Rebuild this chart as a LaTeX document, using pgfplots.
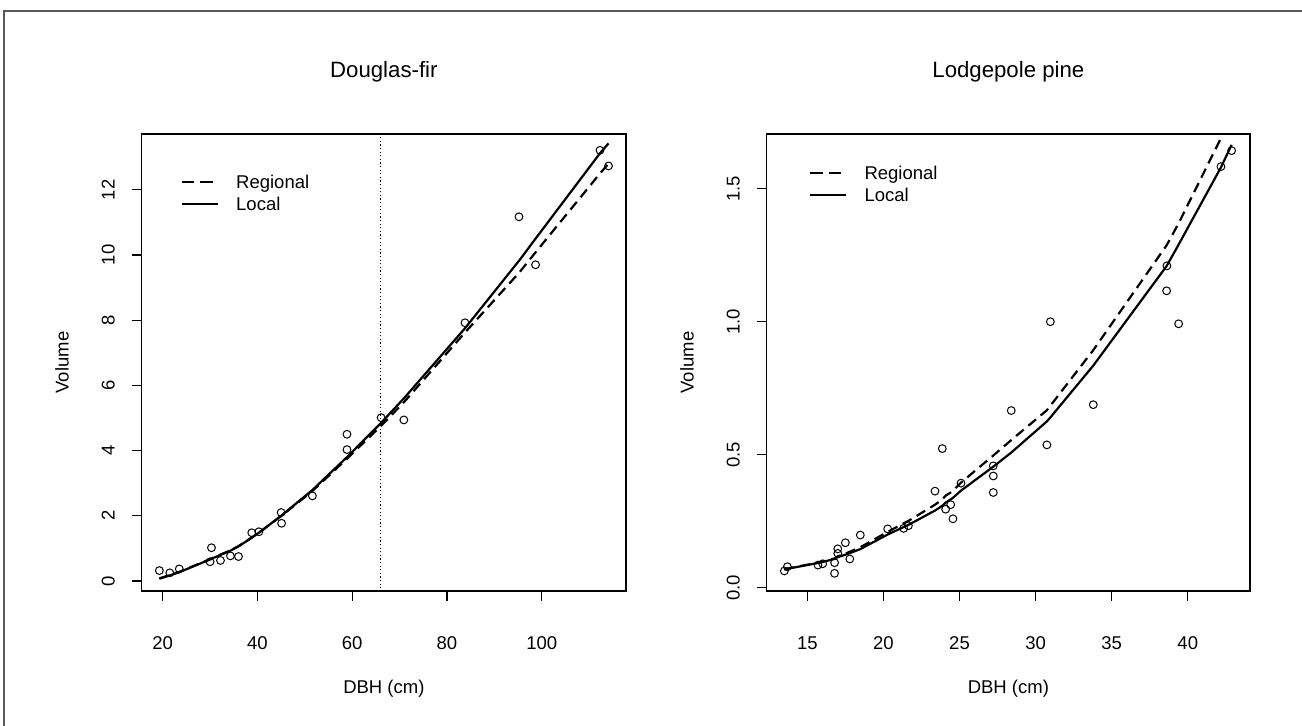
\documentclass[border=0pt]{standalone}
\usepackage{fontspec}
\setmainfont{Liberation Sans}
\usepackage{pgfplots}
\usepackage{pgfplotstable}
\pgfplotsset{compat=1.18}

% Douglas-fir: observed trees
\pgfplotstableread{
dbh vol
19.3 0.32
21.5 0.25
23.5 0.37
30.0 0.59
30.3 1.02
32.2 0.63
34.3 0.77
36.0 0.75
38.8 1.48
40.3 1.51
45.0 2.10
45.1 1.77
51.6 2.61
58.9 4.50
58.9 4.03
66.1 5.01
70.9 4.94
83.8 7.92
95.2 11.17
98.7 9.70
112.3 13.21
114.1 12.73
}\dfpts

% Douglas-fir: fitted volumes
\pgfplotstableread{
dbh reg loc
19.3 0.08 0.07
21.5 0.18 0.17
23.5 0.28 0.27
30.0 0.67 0.66
30.3 0.69 0.68
32.2 0.81 0.80
34.3 0.94 0.93
36.0 1.07 1.06
38.8 1.33 1.33
40.3 1.48 1.48
45.0 1.99 2.00
51.6 2.76 2.79
58.9 3.75 3.80
66.1 4.76 4.85
70.9 5.48 5.60
83.8 7.62 7.75
95.2 9.45 9.82
98.7 10.08 10.50
112.3 12.50 13.12
114.1 12.80 13.42
}\dffit

% Lodgepole pine: observed trees
\pgfplotstableread{
dbh vol
13.49 0.063
13.69 0.079
15.70 0.085
16.01 0.090
16.79 0.094
16.79 0.054
17.00 0.146
17.00 0.129
17.50 0.169
17.79 0.108
18.48 0.198
20.28 0.221
21.33 0.223
21.64 0.233
23.39 0.363
23.87 0.523
24.09 0.295
24.42 0.312
24.57 0.259
25.10 0.393
27.22 0.458
27.22 0.420
27.22 0.358
28.40 0.666
30.74 0.537
30.97 1.000
33.79 0.688
38.63 1.210
38.61 1.116
39.40 0.992
42.18 1.583
42.88 1.643
}\lppts

% Lodgepole pine: fitted volumes
\pgfplotstableread{
dbh reg loc
13.49 0.069 0.068
13.69 0.072 0.071
15.70 0.094 0.093
16.01 0.098 0.097
16.79 0.110 0.108
17.00 0.118 0.115
17.50 0.128 0.124
17.79 0.135 0.130
18.48 0.152 0.145
20.28 0.210 0.200
21.33 0.242 0.228
21.64 0.251 0.236
23.39 0.312 0.290
23.87 0.332 0.308
24.09 0.346 0.320
24.42 0.358 0.332
24.57 0.365 0.338
25.10 0.395 0.365
27.22 0.497 0.455
28.40 0.555 0.508
30.74 0.667 0.625
30.97 0.684 0.640
33.79 0.893 0.835
38.62 1.288 1.210
39.40 1.370 1.290
42.18 1.690 1.580
42.88 1.780 1.665
}\lpfit

\pgfplotsset{
  rpanel/.style={
    scale only axis,
    width=242.15pt, height=228.5pt,
    axis line style={black, line width=0.55pt},
    tick align=outside, xtick pos=left, ytick pos=left,
    major tick length=5pt,
    every tick/.style={black, line width=0.55pt},
    font=\fontsize{9.25}{11}\selectfont,
    /pgf/number format/assume math mode=true,
    xticklabel style={anchor=center, yshift=-21pt, text height=6.6pt, text depth=0pt},
    yticklabel style={anchor=center, xshift=-11.85pt, rotate=90, text height=6.6pt, text depth=0pt},
    title style={at={(axis description cs:0.5,1)}, anchor=center, yshift=25pt,
      font=\fontsize{11.1}{13}\selectfont},
    xlabel style={at={(axis description cs:0.5,0)}, anchor=center, yshift=-49pt},
    ylabel style={at={(axis description cs:0,0.5)}, anchor=center, yshift=39.85pt},
    legend style={draw=none, fill=none, inner sep=0pt, outer sep=0pt,
      column sep=8.5pt, row sep=0pt,
      nodes={inner sep=0pt, text height=7.65pt, text depth=3.65pt, anchor=base west}},
    legend cell align=left,
  },
  pts/.style={only marks, mark=o, mark size=1.95pt, mark options={line width=0.5pt}, black},
  regl/.style={black, line width=1.1pt, dash pattern=on 5pt off 3pt,
    legend image code/.code={\draw[#1, dash pattern=on 6.2pt off 3pt] (0pt,3.3pt) -- (18pt,3.3pt);}},
  locl/.style={black, line width=1.1pt,
    legend image code/.code={\draw[#1] (0pt,3.3pt) -- (18pt,3.3pt);}},
}

\begin{document}
\begin{tikzpicture}
\useasboundingbox (0,0) rectangle (651pt,-363pt);
\draw[black!65, line width=0.7pt] (2pt,-363pt) -- (2pt,-5.5pt) -- (651pt,-5.5pt);

\begin{axis}[rpanel,
  at={(70.85pt,-295.5pt)}, anchor=south west,
  xmin=15.57, xmax=117.79, ymin=-0.307, ymax=13.71,
  xtick={20,40,60,80,100}, ytick={0,2,4,6,8,10,12},
  title={Douglas-fir}, xlabel={DBH (cm)}, ylabel={Volume},
  legend style={at={(axis description cs:0,1)}, anchor=north west, xshift=19.65pt, yshift=-19.5pt},
]
\addplot[pts, forget plot] table[x=dbh, y=vol] {\dfpts};
\addplot[black, line width=0.5pt, dash pattern=on 0.6pt off 1.2pt, forget plot] coordinates {(66,-1) (66,15)};
\addplot[regl] table[x=dbh, y=reg] {\dffit};
\addlegendentry{Regional}
\addplot[locl] table[x=dbh, y=loc] {\dffit};
\addlegendentry{Local}
\end{axis}

\begin{axis}[rpanel,
  at={(383.35pt,-295.5pt)}, anchor=south west,
  width=241.65pt,
  xmin=12.33, xmax=44.09, ymin=-0.0124, ymax=1.7056,
  xtick={15,20,25,30,35,40}, ytick={0,0.5,1,1.5},
  yticklabel style={/pgf/number format/.cd, fixed, fixed zerofill, precision=1},
  title={Lodgepole pine}, xlabel={DBH (cm)}, ylabel={Volume},
  legend style={at={(axis description cs:0,1)}, anchor=north west, xshift=21.3pt, yshift=-15pt},
]
\addplot[pts, forget plot] table[x=dbh, y=vol] {\lppts};
\addplot[regl] table[x=dbh, y=reg] {\lpfit};
\addlegendentry{Regional}
\addplot[locl] table[x=dbh, y=loc] {\lpfit};
\addlegendentry{Local}
\end{axis}
\end{tikzpicture}
\end{document}
